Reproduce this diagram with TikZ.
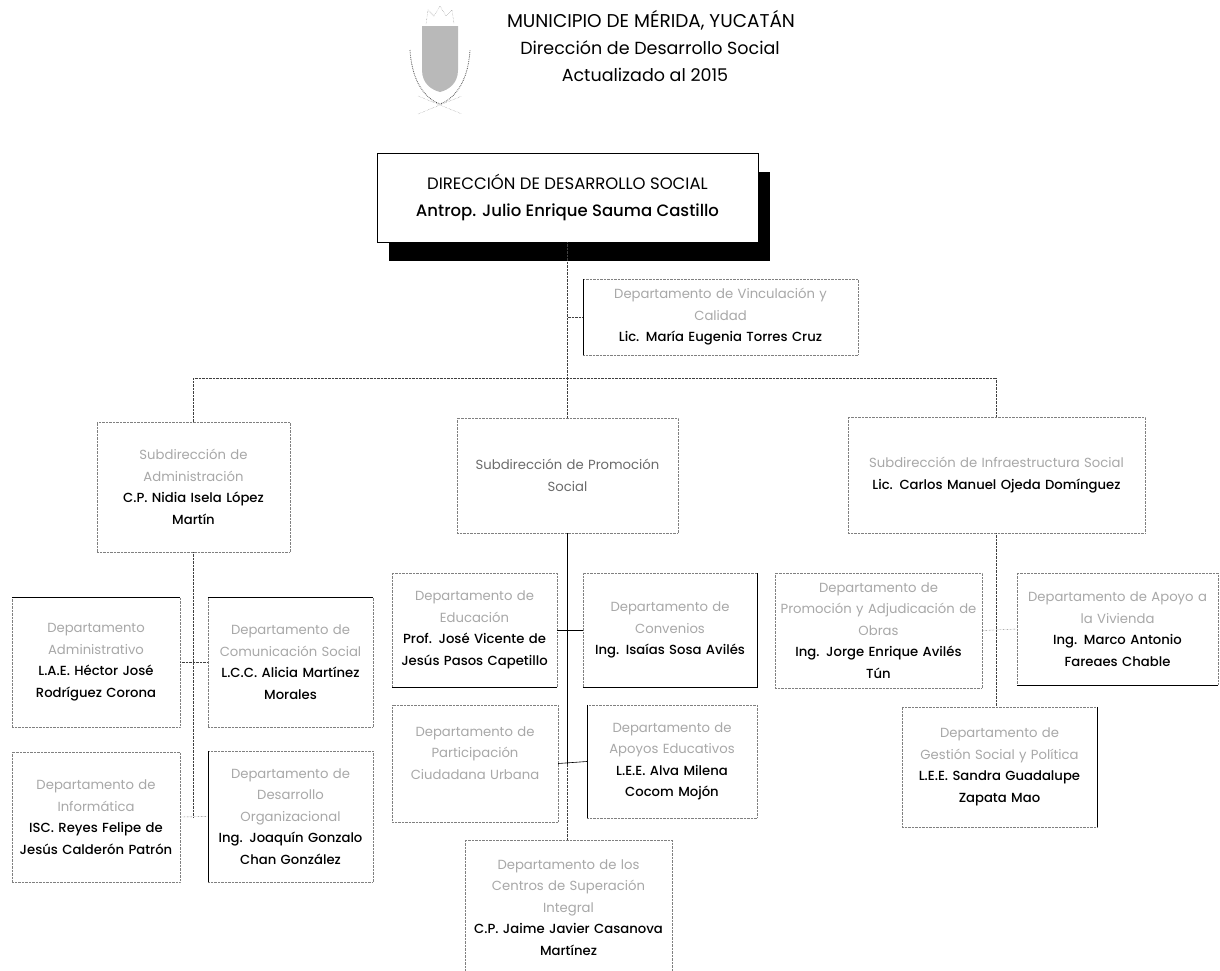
\documentclass[tikz,border=0pt]{standalone}
\usepackage{fontspec}
\setmainfont{Poppins}
\newfontfamily\nmfont{Poppins Medium}
\usetikzlibrary{positioning,shadows}
\definecolor{faint}{gray}{0.66}
\definecolor{midgray}{gray}{0.42}
\newcommand{\ttl}[1]{\textcolor{faint}{#1}}
\newcommand{\nm}[1]{{\nmfont #1}}
\tikzset{
  unit/.style={draw=gray, densely dotted, fill=white, align=center, inner sep=0pt,
    font=\fontsize{13.2}{21.5}\selectfont},
  link/.style={densely dotted, gray!50!black},
  mainlink/.style={black, semithick},
  rim/.style={black, semithick}
}
\begin{document}
\begin{tikzpicture}[x=1pt,y=-1pt]
\useasboundingbox (0,0) rectangle (1220,970);
\fill[gray!55] (422,26) -- (458,26) -- (458,70) .. controls (458,84) and (448,90) .. (440,92) .. controls (432,90) and (422,84) .. (422,70) -- cycle;
\draw[gray, densely dotted] (426,24) -- (428,10) -- (434,16) -- (440,6) -- (446,16) -- (452,10) -- (454,24);
\draw[gray!60!black, densely dotted, thick] (410,50) .. controls (412,85) and (428,100) .. (440,104) .. controls (452,100) and (468,85) .. (470,50);
\draw[gray, densely dotted] (418,114) -- (462,96) (418,96) -- (462,114);
\node[font=\fontsize{18.5}{27}\selectfont] (head) at (651,20) {MUNICIPIO DE MÉRIDA, YUCATÁN};
\node[font=\fontsize{17.5}{27}\selectfont] (head2) at (650,48) {Dirección de Desarrollo Social};
\node[font=\fontsize{17.5}{27}\selectfont] (head3) at (645,75) {Actualizado al 2015};
\node[draw=black, fill=white, align=center, inner sep=0pt, minimum width=381pt, minimum height=89pt,
  font=\fontsize{16.5}{27}\selectfont,
  drop shadow={shadow xshift=12pt, shadow yshift=-19pt, opacity=1, fill=black}] (dir) at (567.5,197.5)
  {DIRECCIÓN DE DESARROLLO SOCIAL\\\nm{Antrop. Julio Enrique Sauma Castillo}};
\node[unit, minimum width=275pt, minimum height=76pt, text width=268pt] (vinc) at (720.5,317)
  {\ttl{Departamento de Vinculación y}\\\ttl{Calidad}\\\nm{Lic. María Eugenia Torres Cruz}};
\node[unit, minimum width=193pt, minimum height=130pt, text width=186pt] (adm) at (193.5,487)
  {\ttl{Subdirección de}\\\ttl{Administración}\\\nm{C.P. Nidia Isela López}\\\nm{Martín}};
\node[unit, minimum width=221pt, minimum height=115pt, text width=214pt] (prom) at (567.5,475.5)
  {\textcolor{midgray}{Subdirección de Promoción}\\\textcolor{midgray}{Social}};
\node[unit, minimum width=297pt, minimum height=116pt, text width=290pt] (infra) at (996.5,475)
  {\ttl{Subdirección de Infraestructura Social}\\\nm{Lic. Carlos Manuel Ojeda Domínguez}};
\node[unit, minimum width=168pt, minimum height=130pt, text width=164pt] (dadm) at (96,662)
  {\ttl{Departamento}\\\ttl{Administrativo}\\\nm{L.A.E. Héctor José}\\\nm{Rodríguez Corona}};
\node[unit, minimum width=165pt, minimum height=130pt, text width=162pt] (dcom) at (290.5,662)
  {\ttl{Departamento de}\\\ttl{Comunicación Social}\\\nm{L.C.C. Alicia Martínez}\\\nm{Morales}};
\node[unit, minimum width=168pt, minimum height=130pt, text width=164pt] (dinf) at (96,817)
  {\ttl{Departamento de}\\\ttl{Informática}\\\nm{ISC. Reyes Felipe de}\\\nm{Jesús Calderón Patrón}};
\node[unit, minimum width=165pt, minimum height=131pt, text width=162pt] (dorg) at (290.5,816.5)
  {\ttl{Departamento de}\\\ttl{Desarrollo}\\\ttl{Organizacional}\\\nm{Ing. Joaquín Gonzalo}\\\nm{Chan González}};
\node[unit, minimum width=165pt, minimum height=114pt, text width=162pt] (dedu) at (474.5,630)
  {\ttl{Departamento de}\\\ttl{Educación}\\\nm{Prof. José Vicente de}\\\nm{Jesús Pasos Capetillo}};
\node[unit, minimum width=174pt, minimum height=114pt, text width=170pt] (dconv) at (670,630)
  {\ttl{Departamento de}\\\ttl{Convenios}\\\nm{Ing. Isaías Sosa Avilés}};
\node[unit, minimum width=166pt, minimum height=117pt, text width=162pt] (dpart) at (475,763.5)
  {\ttl{Departamento de}\\\ttl{Participación}\\\ttl{Ciudadana Urbana}\\\mbox{}};
\node[unit, minimum width=170pt, minimum height=113pt, text width=166pt] (dapoy) at (672,761.5)
  {\ttl{Departamento de}\\\ttl{Apoyos Educativos}\\\nm{L.E.E. Alva Milena}\\\nm{Cocom Mojón}};
\node[unit, minimum width=207pt, minimum height=135pt, text width=203pt] (dcent) at (568.5,907.5)
  {\ttl{Departamento de los}\\\ttl{Centros de Superación}\\\ttl{Integral}\\\nm{C.P. Jaime Javier Casanova}\\\nm{Martínez}};
\node[unit, minimum width=207pt, minimum height=115pt, text width=205pt] (dobras) at (878.5,630.5)
  {\ttl{Departamento de}\\\ttl{Promoción y Adjudicación de}\\\ttl{Obras}\\\nm{Ing. Jorge Enrique Avilés}\\\nm{Tún}};
\node[unit, minimum width=201pt, minimum height=112pt, text width=197pt] (dviv) at (1117.5,629)
  {\ttl{Departamento de Apoyo a}\\\ttl{la Vivienda}\\\nm{Ing. Marco Antonio}\\\nm{Fareaes Chable}};
\node[unit, minimum width=195pt, minimum height=120pt, text width=191pt] (dgest) at (999.5,767)
  {\ttl{Departamento de}\\\ttl{Gestión Social y Política}\\\nm{L.E.E. Sandra Guadalupe}\\\nm{Zapata Mao}};
\coordinate (bus) at (567.5,378);
\draw[link] (dir.south) -- (prom.north);
\draw[link] (dir.south |- vinc.west) -- (vinc.west);
\draw[link] (adm.north) |- (bus) -| (infra.north);
\draw[link] (adm.south) -- (adm.south |- dinf.east);
\draw[link] (dadm.east) -- (dcom.west);
\draw[link] (dinf.east) -- (dorg.west);
\draw[mainlink] (prom.south) -- (prom.south |- dpart.east);
\draw[link] (prom.south |- dpart.east) -- (prom.south |- dcent.north);
\draw[mainlink] (dedu.east) -- (dconv.west);
\draw[mainlink] (dpart.east) -- (dapoy.west);
\draw[link] (infra.south) -- (infra.south |- dgest.north);
\draw[link] (dobras.east) -- (dviv.west);
\draw[rim] (dadm.north west) -- (dadm.north east);
\draw[rim] (dcom.north west) -- (dcom.north east);
\draw[rim] (dorg.north west) -- (dorg.south west);
\draw[rim] (vinc.north west) -- (vinc.south west);
\draw[rim] (dgest.north east) -- (dgest.south east);
\draw[rim] (dedu.south west) -- (dedu.south east);
\draw[rim] (dconv.south west) -- (dconv.south east) -- (dconv.north east);
\draw[rim] (dapoy.north west) -- (dapoy.south west);
\draw[rim] (dviv.south west) -- (dviv.south east);
\end{tikzpicture}
\end{document}
